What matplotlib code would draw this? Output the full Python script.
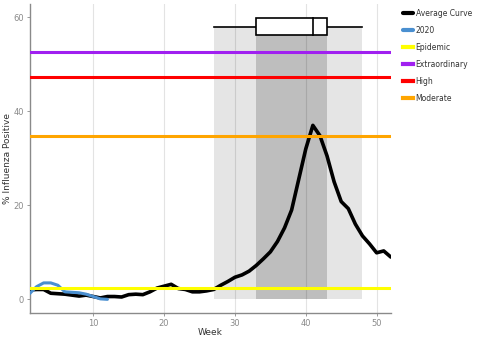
import matplotlib.pyplot as plt

weeks = list(range(1, 53))
average_curve = [2.0, 2.1, 2.1, 1.3, 1.2, 1.1, 0.9, 0.7, 0.9, 0.6,
                 0.3, 0.6, 0.6, 0.5, 1.0, 1.1, 1.0, 1.6, 2.4, 2.8,
                 3.2, 2.3, 2.1, 1.6, 1.6, 1.8, 2.1, 3.0, 3.8, 4.7,
                 5.2, 6.0, 7.2, 8.6, 10.1, 12.3, 15.2, 19.0, 25.5, 32.0,
                 37.0, 34.8, 30.5, 25.0, 20.8, 19.3, 16.0, 13.5, 11.8, 9.9,
                 10.3, 9.0]
weeks_2020 = list(range(1, 13))
values_2020 = [1.2, 2.7, 3.5, 3.5, 3.0, 1.6, 1.5, 1.4, 1.1, 0.6, 0.1, 0.0]

threshold_names = ["Epidemic", "Extraordinary", "High", "Moderate"]
threshold_values = [2.5, 52.7, 47.2, 34.8]
threshold_colors = ["#ffff00", "#a020f0", "#ff0000", "#ffa500"]

# season range (whiskers) and core season (box), peak week as median
season_start, season_end = 27, 48
core_start, core_end = 33, 43
peak_week = 41
box_low, box_high, whisker_y = 56.2, 59.8, 58.0

fig = plt.figure(figsize=(5, 3.38), dpi=100)
ax = fig.add_axes([0.059, 0.074, 0.724, 0.914])

ax.fill_between([season_start, season_end], 0, whisker_y, color="black", alpha=0.1, lw=0)
ax.fill_between([core_start, core_end], 0, whisker_y, color="black", alpha=0.17, lw=0)

ax.plot(weeks, average_curve, color="black", lw=2.6, label="Average Curve",
        solid_capstyle="round", solid_joinstyle="round", zorder=3)
ax.plot(weeks_2020, values_2020, color="#4a8fd0", lw=2.2, label="2020",
        solid_capstyle="round", zorder=3)
for name, val, col in zip(threshold_names, threshold_values, threshold_colors):
    ax.axhline(val, color=col, lw=2.2, label=name, zorder=4)

# box plot of season timing
ax.plot([season_start, core_start], [whisker_y, whisker_y], color="black", lw=1.2, zorder=5)
ax.plot([core_end, season_end], [whisker_y, whisker_y], color="black", lw=1.2, zorder=5)
ax.add_patch(plt.Rectangle((core_start, box_low), core_end - core_start, box_high - box_low,
                           facecolor="white", edgecolor="black", lw=1.2, zorder=5))
ax.plot([peak_week, peak_week], [box_low, box_high], color="black", lw=1.2, zorder=6)

ax.set_xlim(1, 52.1)
ax.set_ylim(-2.9, 62.8)
ax.set_xticks([10, 20, 30, 40, 50])
ax.set_yticks([0, 20, 40, 60])
ax.grid(axis="x", color="#e3e3e3", lw=0.8)
ax.set_axisbelow(True)
for s in ["top", "right"]:
    ax.spines[s].set_visible(False)
for s in ["left", "bottom"]:
    ax.spines[s].set_color("#8a8a8a")
    ax.spines[s].set_linewidth(1.0)
ax.tick_params(colors="#8a8a8a", labelsize=6, length=2, width=0.6, pad=2)
ax.set_xlabel("Week", fontsize=6.5, color="#333333", labelpad=0)
ax.set_ylabel("% Influenza Positive", fontsize=6.5, color="#333333", labelpad=1)

leg = ax.legend(loc="upper left", bbox_to_anchor=(1.02, 1.0), frameon=False, fontsize=5.5,
                handlelength=1.3, handletextpad=0.3, labelspacing=1.05, borderaxespad=0.2)
for line in leg.get_lines():
    line.set_linewidth(3)
for t in leg.get_texts():
    t.set_color("#333333")

fig.savefig("out.png", dpi=100)
